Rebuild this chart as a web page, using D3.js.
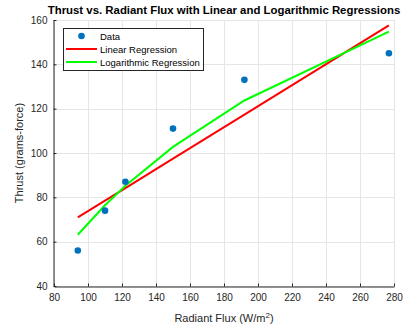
<!DOCTYPE html>
<html>
<head>
<meta charset="utf-8">
<script src="https://cdn.jsdelivr.net/npm/d3@7"></script>
<style>
  html, body { margin: 0; padding: 0; background: #fff; }
  svg text { font-family: "Liberation Sans", Arial, Helvetica, sans-serif; fill: #262626; }
</style>
</head>
<body>
<svg id="chart" width="408" height="329"></svg>
<script>
// Measured thrust against radiant flux
const fluxValues = [94, 110, 122, 150, 192, 277];
const thrustValues = [56, 74, 87, 111, 133, 145];
const xTicks = [80, 100, 120, 140, 160, 180, 200, 220, 240, 260, 280];
const yTicks = [40, 60, 80, 100, 120, 140, 160];
const legendLabels = ["Data", "Linear Regression", "Logarithmic Regression"];

// Least-squares fit of y = a + b*f(x)
function fit(xs, ys, f) {
  const u = xs.map(f);
  const mu = d3.mean(u), my = d3.mean(ys);
  let sxy = 0, sxx = 0;
  u.forEach((v, i) => { sxy += (v - mu) * (ys[i] - my); sxx += (v - mu) * (v - mu); });
  const b = sxy / sxx, a = my - b * mu;
  return x => a + b * f(x);
}
const linFit = fit(fluxValues, thrustValues, x => x);
const logFit = fit(fluxValues, thrustValues, x => Math.log(x));
const linLine = fluxValues.map(x => ({ x, y: linFit(x) }));
const logLine = fluxValues.map(x => ({ x, y: logFit(x) }));
const points = fluxValues.map((x, i) => ({ x, y: thrustValues[i] }));

const svg = d3.select("#chart");
const plotLeft = 54, plotRight = 394, plotTop = 20, plotBottom = 286;

const x = d3.scaleLinear().domain([80, 280]).range([plotLeft, plotRight]);
const y = d3.scaleLinear().domain([40, 160]).range([plotBottom, plotTop]);

// grid
const grid = svg.append("g").attr("stroke", "#e6e6e6").attr("stroke-width", 1);
xTicks.forEach(t => grid.append("line")
  .attr("x1", Math.round(x(t)) + 0.5).attr("x2", Math.round(x(t)) + 0.5)
  .attr("y1", plotTop).attr("y2", plotBottom));
yTicks.forEach(t => grid.append("line")
  .attr("x1", plotLeft).attr("x2", plotRight)
  .attr("y1", Math.round(y(t)) + 0.5).attr("y2", Math.round(y(t)) + 0.5));

// axes
const xAxis = svg.append("g").attr("transform", `translate(0,${plotBottom + 0.5})`)
  .call(d3.axisBottom(x).tickValues(xTicks).tickSizeInner(-3).tickSizeOuter(0).tickPadding(7));
const yAxis = svg.append("g").attr("transform", `translate(${plotLeft - 0.5},0)`)
  .call(d3.axisLeft(y).tickValues(yTicks).tickSizeInner(-3).tickSizeOuter(0).tickPadding(6));
[xAxis, yAxis].forEach(g => {
  g.select(".domain").attr("stroke", "#262626");
  g.selectAll(".tick line").attr("stroke", "#262626");
  g.selectAll(".tick text").attr("font-size", 10).attr("fill", "#262626")
    .style("font-family", "'Liberation Sans', Arial, sans-serif");
});

// regression lines
const line = d3.line().x(d => x(d.x)).y(d => y(d.y));
svg.append("path").datum(linLine).attr("d", line)
  .attr("fill", "none").attr("stroke", "#ff0000").attr("stroke-width", 2);
svg.append("path").datum(logLine).attr("d", line)
  .attr("fill", "none").attr("stroke", "#00ff00").attr("stroke-width", 2);

// data points
svg.append("g").selectAll("circle").data(points).join("circle")
  .attr("cx", d => x(d.x)).attr("cy", d => y(d.y)).attr("r", 3.3)
  .attr("fill", "#0072bd");

// title and axis labels
svg.append("text").attr("x", (plotLeft + plotRight) / 2).attr("y", 13.5)
  .attr("text-anchor", "middle").attr("font-size", 11.4).attr("font-weight", "bold")
  .style("fill", "#000")
  .text("Thrust vs. Radiant Flux with Linear and Logarithmic Regressions");

const xl = svg.append("text").attr("x", (plotLeft + plotRight) / 2).attr("y", 322)
  .attr("text-anchor", "middle").attr("font-size", 11);
xl.append("tspan").text("Radiant Flux (W/m");
xl.append("tspan").attr("font-size", 8).attr("dy", -4).text("2");
xl.append("tspan").attr("dy", 4).text(")");

svg.append("text").attr("transform", `translate(23,${(plotTop + plotBottom) / 2}) rotate(-90)`)
  .attr("text-anchor", "middle").attr("font-size", 11)
  .text("Thrust (grams-force)");

// legend
const lg = svg.append("g").attr("transform", "translate(63,28)");
lg.append("rect").attr("x", 0.5).attr("y", 0.5).attr("width", 140).attr("height", 42)
  .attr("fill", "#fff").attr("stroke", "#262626").attr("stroke-width", 1);
const rowY = [8, 21, 34];
lg.append("circle").attr("cx", 18.5).attr("cy", rowY[0]).attr("r", 3.3).attr("fill", "#0072bd");
lg.append("line").attr("x1", 3).attr("x2", 34).attr("y1", rowY[1]).attr("y2", rowY[1])
  .attr("stroke", "#ff0000").attr("stroke-width", 2);
lg.append("line").attr("x1", 3).attr("x2", 34).attr("y1", rowY[2]).attr("y2", rowY[2])
  .attr("stroke", "#00ff00").attr("stroke-width", 2);
legendLabels.forEach((t, i) => lg.append("text").attr("x", 37).attr("y", rowY[i] + 3.5)
  .attr("font-size", 9.5).style("fill", "#000").text(t));
</script>
</body>
</html>
